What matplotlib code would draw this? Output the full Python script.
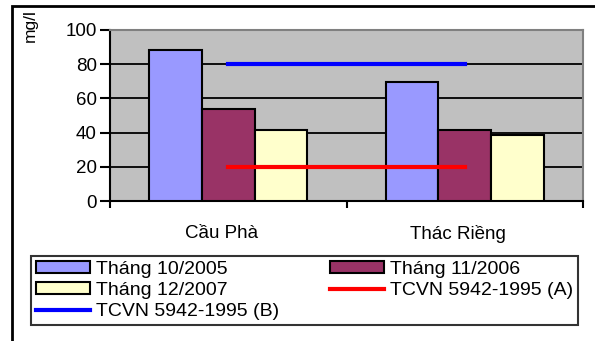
import matplotlib.pyplot as plt
import matplotlib.transforms as mtransforms
from matplotlib.patches import Rectangle

plt.rcParams['font.family'] = ['Liberation Sans', 'DejaVu Sans']

sites = ["Cầu Phà", "Thác Riềng"]
series_names = ["Tháng 10/2005", "Tháng 11/2006", "Tháng 12/2007"]
thang_10_2005 = [88.5, 69.5]
thang_11_2006 = [54, 41.5]
thang_12_2007 = [41.5, 38.5]
tcvn_a = [20, 20]
tcvn_b = [80, 80]

colors = ["#9999FF", "#993366", "#FFFFCC"]

fig = plt.figure(figsize=(5.95, 3.41), dpi=100)
ax = fig.add_axes([110/595, 1-201/341, 473/595, 171/341])
ax.set_facecolor("#C0C0C0")

w = 0.222
x = [0, 1]
handles = []
for k, vals in enumerate([thang_10_2005, thang_11_2006, thang_12_2007]):
    b = ax.bar([xi + (k-1)*w for xi in x], vals, width=w, color=colors[k],
               edgecolor="black", linewidth=1.5, zorder=3, label=series_names[k])
    handles.append(b)

la, = ax.plot(x, tcvn_a, color="#FF0000", lw=3, zorder=4, label="TCVN 5942-1995 (A)")
lb, = ax.plot(x, tcvn_b, color="#0000FF", lw=3, zorder=4, label="TCVN 5942-1995 (B)")

ax.set_xlim(-0.5, 1.5)
ax.set_ylim(0, 100)
ax.set_yticks([0, 20, 40, 60, 80, 100])
ax.yaxis.grid(True, color="black", lw=1.3, zorder=1)
ax.set_axisbelow(True)
ax.tick_params(axis="y", labelsize=13.5, length=7.5, width=1.5, direction="out", pad=2)

ax.set_xticks([-0.5, 0.5, 1.5])
ax.set_xticklabels([])
ax.set_xticks(x, minor=True)
ax.set_xticklabels(sites, minor=True)
ax.tick_params(axis="x", which="major", length=5, width=1.5, direction="out")
ax.tick_params(axis="x", which="minor", length=0, labelsize=13.5, pad=17)
shift = mtransforms.ScaledTranslation(-7/100, 0, fig.dpi_scale_trans)
for lbl in ax.get_xticklabels(minor=True):
    lbl.set_transform(lbl.get_transform() + shift)

for s in ["top", "right"]:
    ax.spines[s].set_color("#808080")
    ax.spines[s].set_linewidth(1.5)
for s in ["left", "bottom"]:
    ax.spines[s].set_color("black")
    ax.spines[s].set_linewidth(1.5)

fig.text(30/595, 1-26/341, "mg/l", rotation=90, fontsize=12.5, ha="center", va="center")

# outer chart frame (clipped at right and bottom)
fig.patches.append(Rectangle((12/595, -0.1), 1.2, 1-6/341+0.1, transform=fig.transFigure,
                             fill=False, edgecolor="black", lw=2))

leg = fig.legend([handles[0], handles[2], lb, handles[1], la],
                 [series_names[0], series_names[2], "TCVN 5942-1995 (B)",
                  series_names[1], "TCVN 5942-1995 (A)"],
                 ncol=2, loc="upper left", mode="expand",
                 bbox_to_anchor=(31/595, 1-256/341, 547/595, 0),
                 fontsize=14, frameon=True, fancybox=False, edgecolor="black",
                 handlelength=2.8, handleheight=0.55, labelspacing=0.22,
                 columnspacing=1.0, handletextpad=0.3, borderpad=0.25, borderaxespad=0)
leg.get_frame().set_linewidth(1.5)

fig.savefig("out.png", dpi=100)
